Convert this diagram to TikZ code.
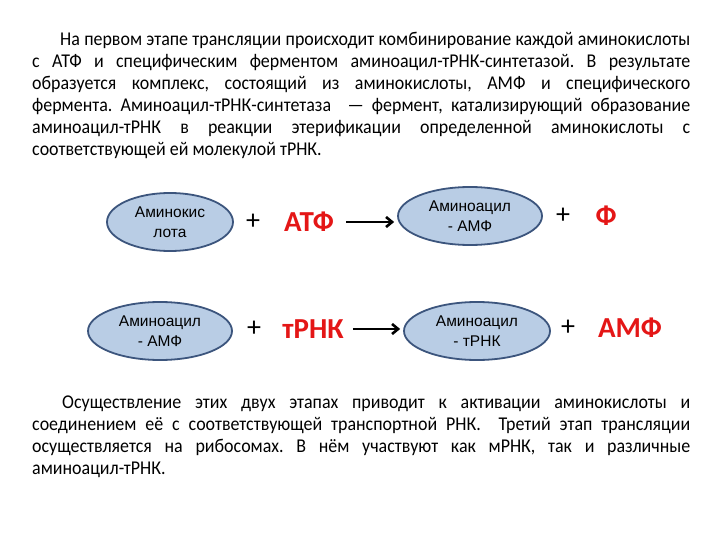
\documentclass[tikz,border=0pt]{standalone}
\usepackage{fontspec}
\setmainfont{Carlito}
\newfontfamily\bodyfont[FakeStretch=0.92]{Carlito}
\newfontfamily\ellfont{Liberation Sans}
\usetikzlibrary{shapes.geometric, arrows.meta, positioning}
\definecolor{ellfill}{RGB}{185,205,229}
\definecolor{elldraw}{RGB}{60,85,125}
\definecolor{reactred}{RGB}{228,22,22}
\tikzset{
  bodytext/.style={anchor=north west, inner sep=0pt, text width=658pt,
                   align=justify, font=\bodyfont\frenchspacing\fontsize{19.5}{22}\selectfont},
  molell/.style={ellipse, draw=elldraw, line width=1.8pt, fill=ellfill,
                 inner sep=0pt, minimum height=58pt, align=center,
                 font=\ellfont\fontsize{15.5}{20}\selectfont},
  plussign/.style={inner sep=0pt, font=\fontsize{28}{28}\selectfont},
  reagent/.style={inner sep=0pt, text=reactred, font=\bfseries\fontsize{29}{29}\selectfont},
  reactarrow/.style={-{Straight Barb[length=6pt,width=10pt]}, line width=2.6pt, black},
}
\begin{document}
\begin{tikzpicture}[x=1pt, y=-1pt]
  \useasboundingbox (0,0) rectangle (720,540);

  % Top paragraph
  \node[bodytext] (ptop) at (32,32) {\hspace*{28pt}На первом этапе трансляции происходит комбинирование каждой аминокислоты\linebreak
    с АТФ и специфическим ферментом аминоацил-тРНК-синтетазой. В результате\linebreak
    образуется комплекс, состоящий из аминокислоты, АМФ и специфического\linebreak
    фермента. Аминоацил-тРНК-синтетаза \ — фермент, катализирующий образование\linebreak
    аминоацил-тРНК в реакции этерификации определенной аминокислоты с\linebreak
    соответствующей ей молекулой тРНК.};

  % Row 1
  \node[molell, minimum width=126pt] (acid) at (170,222) {Аминокис\\лота};
  \node[plussign] (plA) at (253,222) {+};
  \node[reagent] (atf) at (309,222) {АТФ};
  \node[molell, minimum width=144pt] (aamfA) at (470,216) {Аминоацил\\- АМФ};
  \node[plussign] (plB) at (563,216) {+};
  \node[reagent] (phos) at (606,216) {Ф};
  \draw[reactarrow, shorten <=12pt, shorten >=3pt] (atf.east) -- (atf.east -| aamfA.west);

  % Row 2
  \node[molell, minimum width=144pt] (aamfB) at (160,331) {Аминоацил\\- АМФ};
  \node[plussign] (plC) at (254,329) {+};
  \node[reagent] (trna) at (313,329) {тРНК};
  \node[molell, minimum width=146pt] (aatrna) at (477,331) {Аминоацил\\- тРНК};
  \node[plussign] (plD) at (568,328) {+};
  \node[reagent] (amf) at (630,328) {АМФ};
  \draw[reactarrow, shorten <=9pt, shorten >=3pt] (trna.east) -- (trna.east -| aatrna.west);

  % Bottom paragraph
  \node[bodytext] (pbot) at (32,396) {\hspace*{30pt}Осуществление этих двух этапах приводит к активации аминокислоты и\linebreak
    соединением её с соответствующей транспортной РНК. \ Третий этап трансляции\linebreak
    осуществляется на рибосомах. В нём участвуют как мРНК, так и различные\linebreak
    аминоацил-тРНК.};
\end{tikzpicture}
\end{document}
